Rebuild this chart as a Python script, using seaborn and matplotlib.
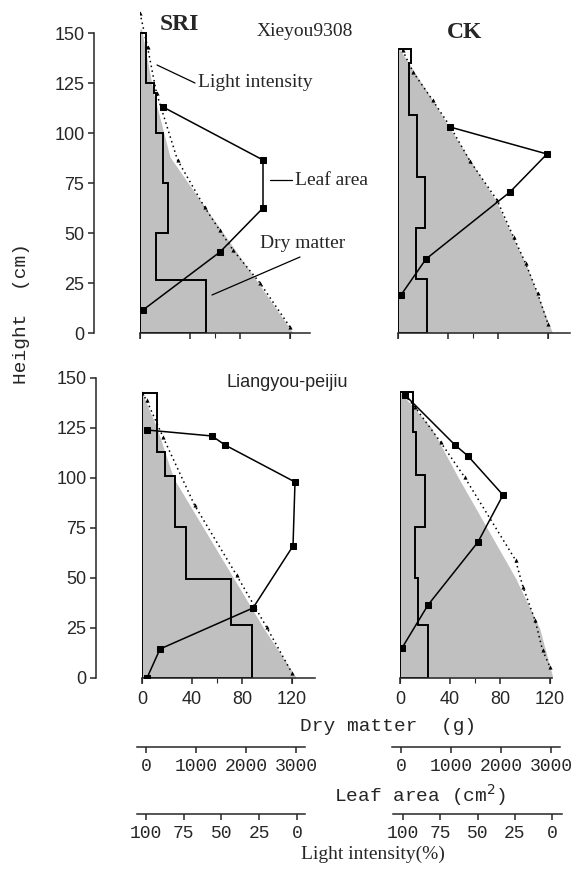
import numpy as np
import pandas as pd
import seaborn as sns
import matplotlib.pyplot as plt

sns.set_style("ticks")
plt.rcParams['font.family'] = ['Liberation Sans', 'DejaVu Sans']
plt.rcParams['axes.linewidth'] = 1.1

SERIF = ['Liberation Serif', 'DejaVu Serif']
MONO = ['Liberation Mono', 'DejaVu Sans Mono']

# ---- SRI, Xieyou9308 ----
sri_x_layers = [0, 26.5, 50, 75, 100, 120, 125, 150]   # layer bounds (cm)
sri_x_dry = [53, 13, 22, 18, 13, 11, 5]               # dry matter per layer (g)
sri_x_leaf_h = [113, 86.5, 62.5, 40.5, 11.5]
sri_x_leaf = [460, 2460, 2460, 1600, 60]               # cm2
sri_x_light_h = [160, 143, 120, 86.5, 63, 51.5, 41.5, 25, 3]
sri_x_light = [100, 95, 89, 75, 57, 47, 38, 20, 0]     # %
sri_x_shade_h = [152, 120, 88, 66.5, 43, 28, 0]
sri_x_shade = [99, 91, 80, 60, 38, 24, -2]

# ---- CK, Xieyou9308 ----
ck_x_layers = [0, 27, 52.5, 78, 109, 135, 142]
ck_x_dry = [23.2, 14.4, 21.6, 15.2, 8.8, 10.4]
ck_x_leaf_h = [103, 89.5, 70.5, 37, 19]
ck_x_leaf = [1040, 2980, 2240, 560, 60]
ck_x_light_h = [141.5, 130.5, 116.5, 103, 86, 66.5, 48, 35, 20, 4.5]
ck_x_light = [97, 90, 77, 65, 52, 34, 23, 15, 7, 0]
ck_x_shade_h = [142, 116.5, 103, 66.5, 33, 0]
ck_x_shade = [99, 77, 66, 35, 14, -3]

# ---- SRI, Liangyou-peijiu ----
sri_l_layers = [0, 26.5, 49.5, 75.5, 101, 113, 124, 142.5]
sri_l_dry = [88, 71, 35, 26, 18, 12, 12]
sri_l_leaf_h = [124, 121, 116.5, 98, 66, 35, 14.5, 0]
sri_l_leaf = [100, 1400, 1660, 3060, 3020, 2220, 360, 100]
sri_l_light_h = [142.5, 139, 120.5, 86.5, 51.5, 25.5, 2.5]
sri_l_light = [100, 97, 86, 65, 37, 17, 0]
sri_l_shade_h = [142.5, 125, 100, 75, 50, 25, 0]
sri_l_shade = [100, 90, 79, 59, 39, 19, -3]

# ---- CK, Liangyou-peijiu ----
ck_l_layers = [0, 26.5, 50, 75.5, 101.5, 123, 143]
ck_l_dry = [22.4, 14.4, 12, 20, 12.8, 10]
ck_l_leaf_h = [141.5, 116.5, 111, 91.5, 68, 36.5, 15]
ck_l_leaf = [100, 1100, 1360, 2060, 1560, 560, 40]
ck_l_light_h = [141.5, 135.5, 118, 100.5, 59, 45.5, 29, 14, 5.5]
ck_l_light = [97, 90, 73, 57, 23, 18, 10, 5, 0]
ck_l_shade_h = [143, 125, 100, 75, 50, 25, 0]
ck_l_shade = [100, 79, 61, 42, 23, 7, -2]

dry_ticks = [0, 40, 80, 120]
height_ticks = [0, 25, 50, 75, 100, 125, 150]
leaf_ticks = [0, 1000, 2000, 3000]
light_ticks = [100, 75, 50, 25, 0]

W, H = 586, 871
fig = plt.figure(figsize=(W / 100, H / 100), dpi=100)


def rect(l, t, r, b):
    return [l / W, 1 - b / H, (r - l) / W, (b - t) / H]


def step_outline(bounds, widths):
    xs, ys = [0], [0]
    for i, w in enumerate(widths):
        xs += [w, w]
        ys += [bounds[i], bounds[i + 1]]
    xs += [0, 0]
    ys += [bounds[-1], 0]
    return xs, ys


panels = [
    dict(box=(140, 9, 310, 333), xmax=136, left=True, labels=False,
         layers=sri_x_layers, dry=sri_x_dry, leaf_h=sri_x_leaf_h, leaf=sri_x_leaf,
         light_h=sri_x_light_h, light=sri_x_light, shade_h=sri_x_shade_h, shade=sri_x_shade),
    dict(box=(398, 9, 570, 333), xmax=137.6, left=False, labels=False,
         layers=ck_x_layers, dry=ck_x_dry, leaf_h=ck_x_leaf_h, leaf=ck_x_leaf,
         light_h=ck_x_light_h, light=ck_x_light, shade_h=ck_x_shade_h, shade=ck_x_shade),
    dict(box=(142, 354, 315, 678), xmax=138.4, left=True, labels=True,
         layers=sri_l_layers, dry=sri_l_dry, leaf_h=sri_l_leaf_h, leaf=sri_l_leaf,
         light_h=sri_l_light_h, light=sri_l_light, shade_h=sri_l_shade_h, shade=sri_l_shade),
    dict(box=(400, 354, 552, 678), xmax=121.6, left=False, labels=True,
         layers=ck_l_layers, dry=ck_l_dry, leaf_h=ck_l_leaf_h, leaf=ck_l_leaf,
         light_h=ck_l_light_h, light=ck_l_light, shade_h=ck_l_shade_h, shade=ck_l_shade),
]

axes_dry = []
for p in panels:
    # base axis: light intensity (reversed), holds the shading
    ax = fig.add_axes(rect(*p['box']))
    ax.fill_betweenx(p['shade_h'], 100, p['shade'], color='#c0c0c0', lw=0, zorder=1)
    sns.lineplot(x=p['light'], y=p['light_h'], ax=ax, sort=False, estimator=None,
                 color='black', lw=1.1, linestyle=(0, (1, 2.2)), marker='^',
                 markersize=3, markeredgewidth=0, zorder=3)
    ax.set_xlim(100, 100 - p['xmax'] / 1.2)
    ax.set_ylim(0, 162)
    ax.tick_params(axis='x', bottom=False, labelbottom=False, top=False, labeltop=False)
    for s in ['top', 'right', 'bottom']:
        ax.spines[s].set_visible(False)
    if p['left']:
        ax.spines['left'].set_position(('outward', 33))
        ax.spines['left'].set_bounds(0, 150)
        ax.set_yticks(height_ticks)
        ax.tick_params(axis='y', length=4, width=1.1, labelsize=13, pad=3)
    else:
        ax.spines['left'].set_visible(False)
        ax.tick_params(axis='y', left=False, labelleft=False)

    # dry matter axis
    ax_dry = ax.twiny()
    xs, ys = step_outline(p['layers'], p['dry'])
    ax_dry.plot(xs, ys, color='black', lw=1.4, solid_joinstyle='miter')
    ax_dry.set_xlim(0, p['xmax'])
    for s in ['top', 'right', 'left']:
        ax_dry.spines[s].set_visible(False)
    ax_dry.spines['bottom'].set_visible(True)
    ax_dry.xaxis.set_ticks_position('bottom')
    ax_dry.set_xticks(dry_ticks)
    ax_dry.tick_params(axis='x', length=4, width=1.1, labelsize=13, pad=5,
                       labelbottom=p['labels'])

    # leaf area axis
    ax_leaf = ax.twiny()
    sns.lineplot(x=p['leaf'], y=p['leaf_h'], ax=ax_leaf, sort=False, estimator=None,
                 color='black', lw=1.1, marker='s', markersize=4.2,
                 markeredgecolor='black')
    ax_leaf.set_xlim(0, p['xmax'] * 25)
    ax_leaf.set_ylim(0, 162)
    for s in ax_leaf.spines.values():
        s.set_visible(False)
    ax_leaf.tick_params(axis='x', top=False, labeltop=False, bottom=False, labelbottom=False)
    ax_leaf.set_xlabel('')
    axes_dry.append(ax_dry)

# annotations in the first panel
a = axes_dry[0]
a.plot([13.6, 44], [134, 125], color='black', lw=0.9, clip_on=False)
a.text(46.4, 125.5, 'Light intensity', family=SERIF, fontsize=14, va='center', ha='left')
a.plot([104, 121.6], [76.5, 76.5], color='black', lw=0.9, clip_on=False)
a.text(124, 76.5, 'Leaf area', family=SERIF, fontsize=14, va='center', ha='left')
a.plot([128, 57.6], [38, 19], color='black', lw=0.9, clip_on=False)
a.text(96, 45, 'Dry matter', family=SERIF, fontsize=14, va='center', ha='left')

# titles
fig.text(179 / W, 1 - 25 / H, 'SRI', family=SERIF, fontsize=17, fontweight='bold',
         ha='center', va='center')
fig.text(465 / W, 1 - 33 / H, 'CK', family=SERIF, fontsize=17, fontweight='bold',
         ha='center', va='center')
fig.text(305 / W, 1 - 32 / H, 'Xieyou9308', family=SERIF, fontsize=14,
         ha='center', va='center')
fig.text(287 / W, 1 - 382 / H, 'Liangyou-peijiu', fontsize=13,
         ha='center', va='center')

# extra scale strips below
strips = [
    ((137, 305, 747), (-180, 3180), leaf_ticks),
    ((392, 560, 747), (-180, 3180), leaf_ticks),
    ((137, 305, 814), (105.96, -5.3), light_ticks),
    ((393, 562, 814), (106.7, -6.7), light_ticks),
]
for (l, r, y), lim, ticks in strips:
    sa = fig.add_axes(rect(l, y - 1, r, y))
    sa.patch.set_visible(False)
    for s in ['top', 'right', 'left']:
        sa.spines[s].set_visible(False)
    sa.set_xlim(*lim)
    sa.set_xticks(ticks)
    sa.set_xticklabels([str(t) for t in ticks], family=MONO, fontsize=13)
    sa.set_yticks([])
    sa.tick_params(axis='x', length=4, width=1.1, pad=4)

# axis titles
fig.text(22 / W, 1 - 313 / H, 'Height  (cm)', family=MONO, fontsize=14,
         rotation=90, ha='center', va='center')
fig.text(388 / W, 1 - 726 / H, 'Dry matter  (g)', family=MONO, fontsize=14,
         ha='center', va='center')
fig.text(420 / W, 1 - 795 / H, 'Leaf area (cm$^2$)', family=MONO, fontsize=14,
         ha='center', va='center')
fig.text(373 / W, 1 - 854 / H, 'Light intensity(%)', family=SERIF, fontsize=14,
         ha='center', va='center')

fig.savefig('out.png', dpi=100)
